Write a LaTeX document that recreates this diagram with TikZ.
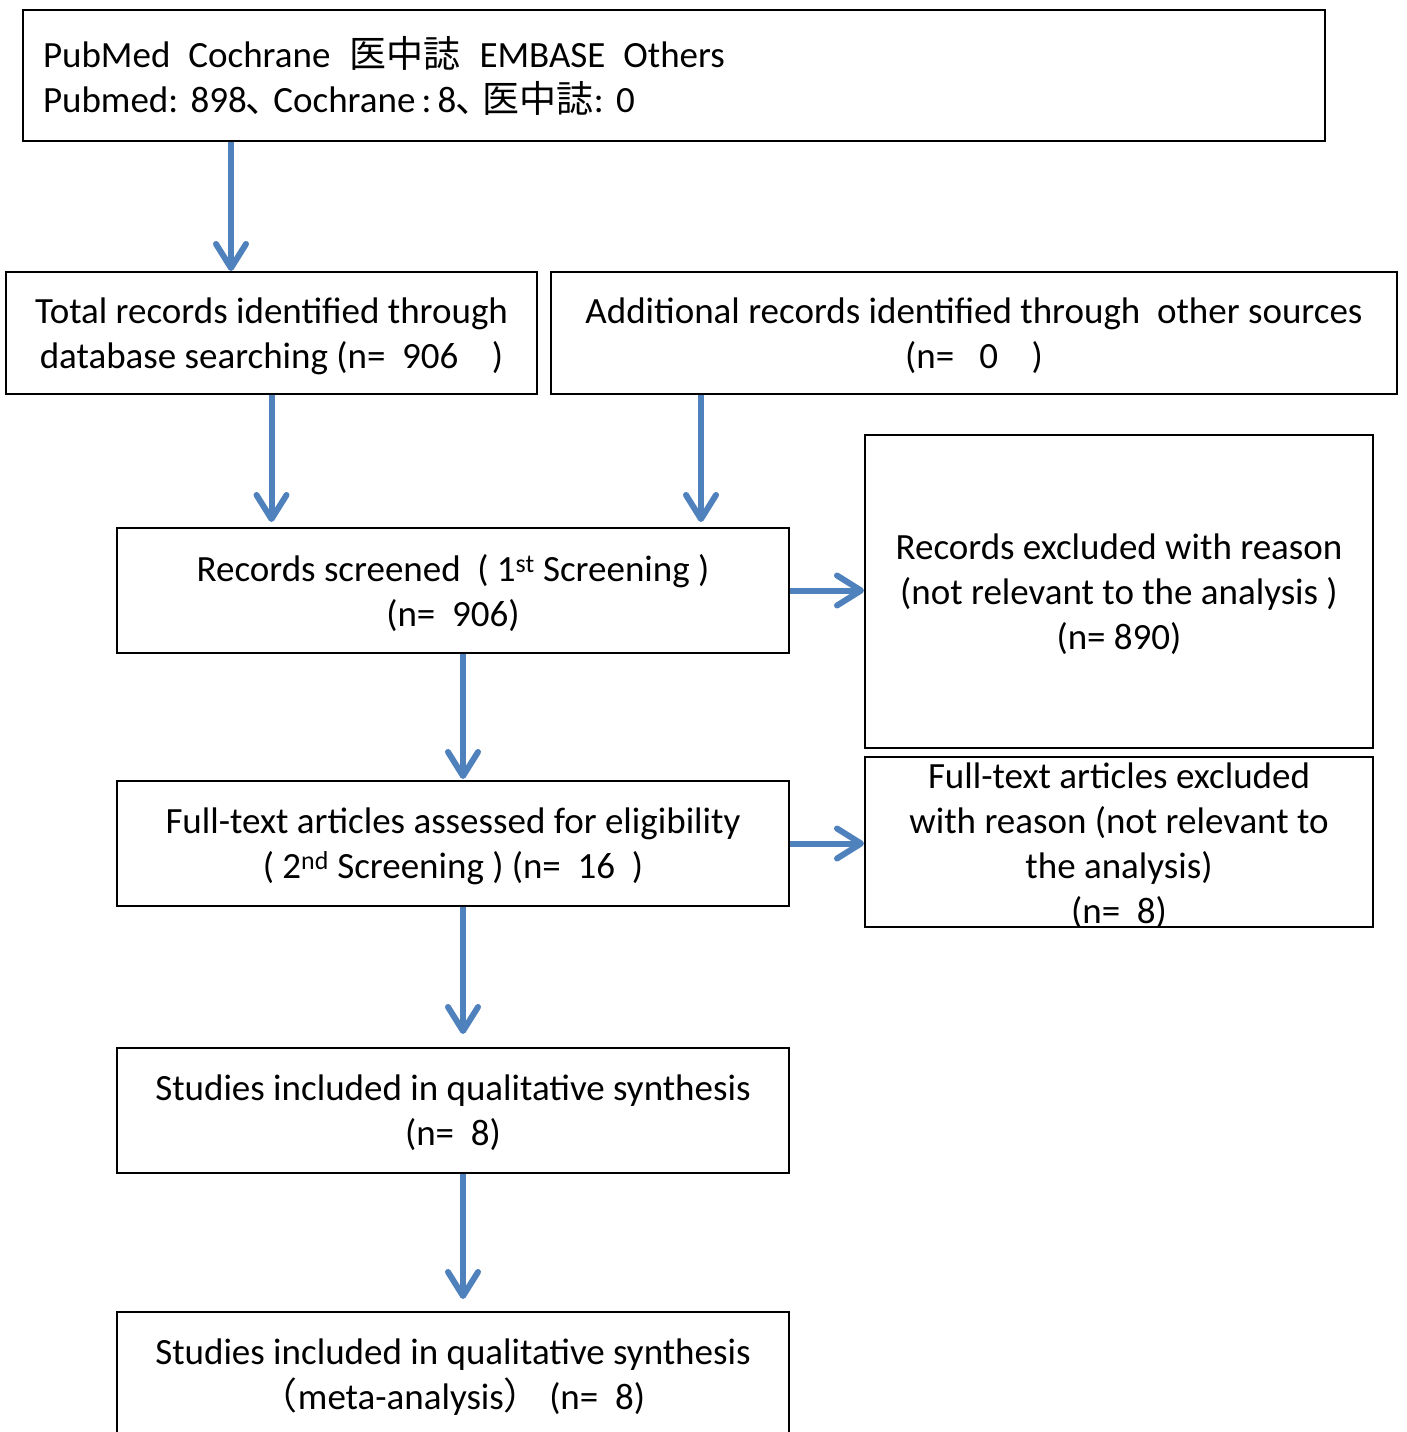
\documentclass[tikz,border=0pt]{standalone}
\usepackage{fontspec}
\setmainfont{Carlito}
\newfontfamily\jpfont{Noto Sans CJK JP}
\usepackage{xcolor}
\usepackage{tikz}
\usetikzlibrary{arrows.meta}
\definecolor{flowblue}{HTML}{4F81BD}
\frenchspacing

\begin{document}
\begin{tikzpicture}[x=1pt, y=-1pt,
    txt/.style={inner sep=0pt, align=center, text depth=0pt, font=\fontsize{37}{45}\selectfont},
    box/.style={txt, draw, line width=2pt, fill=white},
    flow/.style={line width=6pt, draw=flowblue, -{Straight Barb[round, length=24pt, width=30pt]}}]
  \useasboundingbox (0,0) rectangle (1406,1432);

  \node[box, text depth={}, text width=1262pt, inner xsep=20pt, align=left, minimum height=131pt] (db) at (674,75.5)
    {PubMed\hspace{18pt}Cochrane\hspace{19pt}{\jpfont 医中誌}\hspace{19pt}EMBASE\hspace{18pt}Others\\
     Pubmed: 898{\jpfont ､}\hspace{8pt}Cochrane\,:\,8{\jpfont ､}\hspace{8pt}{\jpfont 医中誌}: 0};
  \node[box, minimum width=531pt, minimum height=122pt] (total) at (271.5,333)
    {Total records identified through\\ database searching (n=~~906~~~~)};
  \node[box, minimum width=846pt, minimum height=122pt] (other) at (974,333)
    {Additional records identified through~~other sources\\ (n=~~~0~~~~)};
  \node[box, minimum width=672pt, minimum height=125pt] (screen) at (453,590.5)
    {Records screened~~( 1\textsuperscript{st} Screening )\\ (n=~~906)};
  \node[box, minimum width=508pt, minimum height=313pt] (excl) at (1119,591.5)
    {Records excluded with reason\\ (not relevant to the analysis )\\ (n= 890)};
  \node[box, minimum width=672pt, minimum height=125pt] (full) at (453,843.5)
    {Full-text articles assessed for eligibility\\ ( 2\textsuperscript{nd} Screening ) (n=~~16~~)};
  \node[box, minimum width=508pt, minimum height=170pt] (fullex) at (1119,842) {};
  \node[txt] (fullext) at (1119,843)
    {Full-text articles excluded\\ with reason (not relevant to\\ the analysis)\\ (n=~~8)};
  \node[box, minimum width=672pt, minimum height=125pt] (qual) at (453,1110.5)
    {Studies included in qualitative synthesis\\ (n=~~8)};
  \node[box, minimum width=672pt, minimum height=125pt] (meta) at (453,1374.5)
    {Studies included in qualitative synthesis\\ {\jpfont （}meta-analysis{\jpfont ）} (n=~~8)};

  \coordinate (c1) at ([xshift=-40.5pt]total.north);
  \draw[flow] (c1 |- db.south) -- (c1);
  \draw[flow, shorten >=5pt] (total.south) -- (total.south |- screen.north);
  \coordinate (c2) at ([xshift=-273pt]other.south);
  \draw[flow, shorten >=5pt] (c2) -- (c2 |- screen.north);
  \draw[flow] (screen.east) -- (screen.east -| excl.west);
  \draw[flow] (full.east) -- (full.east -| fullex.west);
  \foreach \a/\b/\s in {screen/full/1pt, full/qual/13pt, qual/meta/12pt} {
    \coordinate (c) at ([xshift=10pt]\a.south);
    \draw[flow, shorten >=\s] (c) -- (c |- \b.north);
  }
\end{tikzpicture}
\end{document}
